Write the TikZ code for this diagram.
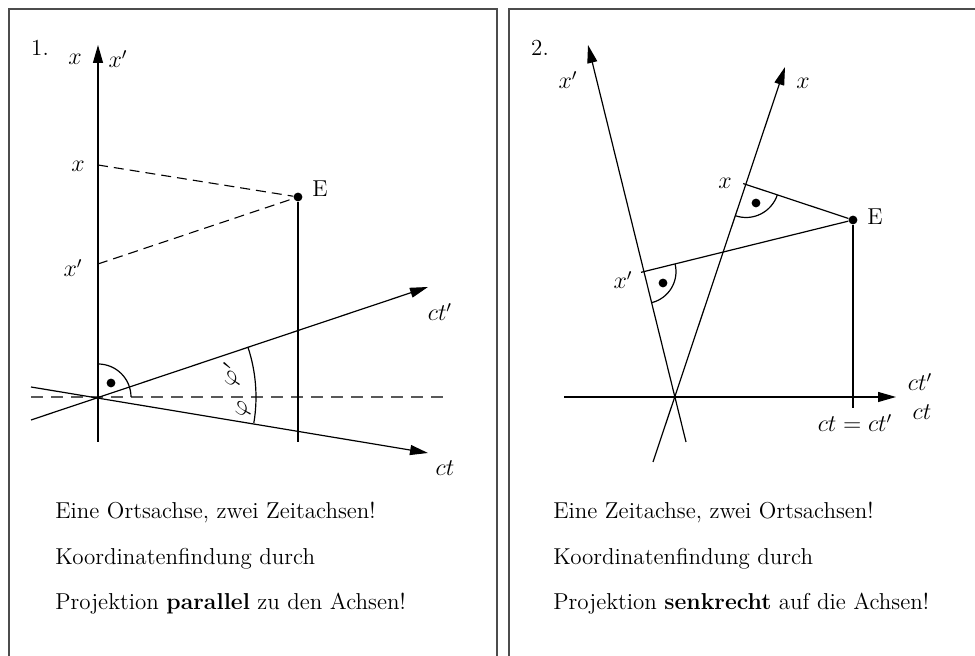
\documentclass[tikz,border=0pt]{standalone}
\usepackage{amsmath}
\usepackage{tikz}
\usetikzlibrary{arrows.meta,calc}
\tikzset{
  frame/.style ={draw=black!70, line width=0.9pt},
  axis/.style  ={-{Triangle[length=9pt,width=5pt]}, line width=0.6pt},
  line/.style  ={line width=0.6pt},
  proj/.style  ={dashed, dash pattern=on 5pt off 3pt, line width=0.55pt},
  hor/.style   ={dashed, dash pattern=on 6pt off 4pt, line width=0.6pt, draw=black!65},
  dot/.style   ={circle, fill=black, inner sep=0pt, minimum size=4.4pt},
  txt/.style   ={anchor=base west, inner sep=0pt},
}

\begin{document}
\begin{tikzpicture}[x=0.5pt, y=0.5pt, font=\fontsize{11.5}{14}\selectfont]
\useasboundingbox (0,0) rectangle (975,656);
\clip (0,0) rectangle (975,656);

% frames
\draw[frame] (9,-20) rectangle (497,647);
\draw[frame] (509,-20) rectangle (1000,647);

% ---- panel 1: parallel projection
\node (n1) at (40,608) {1.};
\coordinate (O1) at (98,259);
\coordinate (xb1) at (98,214);
\coordinate (xt1) at (98,611);
\coordinate (px1) at (98,491);
\coordinate (pxp1) at (98,392);
\coordinate (Eb1) at (298,214);
\coordinate (ctps) at (31,236);
\coordinate (ctpe) at (428,369);
\coordinate (cts) at (31,269);
\coordinate (cte) at (428,203);
\coordinate (hs1) at (31,259);
\coordinate (he1) at (450,259);
\node[dot] (E1) at (298,459) {};

\draw[hor] (hs1) -- (he1);
\draw[axis] (xb1) -- (xt1);
\draw[axis] (ctps) -- (ctpe);
\draw[axis] (cts) -- (cte);
\draw[line] (E1) -- (Eb1);
\draw[proj] (px1) -- (E1);
\draw[proj] (pxp1) -- (E1);
\draw[line] ($(O1)+(90:33)$) arc[start angle=90, end angle=0, radius=16.5pt];
\node[dot] (ra1) at (111,273) {};
\draw[line] ($(O1)+(-9.5:158)$) arc[start angle=-9.5, end angle=18.5, radius=79pt];

\node (lx1) at (75,597) {$x$};
\node (lxp1) at (118,597) {$x'$};
\node (tx1) at (78,490) {$x$};
\node (txp1) at (73,388) {$x'$};
\node (lE1) at (320,467) {E};
\node (lctp1) at (440,344) {$ct'$};
\node (lct1) at (445,188) {$ct$};
\node[rotate=70, inner sep=1pt] (lphp) at (231,281) {$\varphi'$};
\node[rotate=75, inner sep=1pt] (lph) at (244,247) {$\varphi$};

\node[txt] (t11) at (55,137) {Eine Ortsachse, zwei Zeitachsen!};
\node[txt] (t12) at (55,91) {Koordinatenfindung durch};
\node[txt] (t13) at (55,46) {Projektion \textbf{parallel} zu den Achsen!};

% ---- panel 2: perpendicular projection
\node (n2) at (540,608) {2.};
\coordinate (O2) at (675,259);
\coordinate (ts2) at (564,259);
\coordinate (te2) at (896,259);
\coordinate (xps) at (686,214);
\coordinate (xpe) at (588,611);
\coordinate (xs2) at (653,194);
\coordinate (xe2) at (785,589);
\coordinate (Eb2) at (853,248);
\coordinate (F) at (746,471.5);
\coordinate (G) at (644,384.4);
\node[dot] (E2) at (853,436) {};

\draw[axis] (ts2) -- (te2);
\draw[axis] (xps) -- (xpe);
\draw[axis] (xs2) -- (xe2);
\draw[line] (E2) -- (Eb2);
\draw[line] (E2) -- ($(F)!-1.5pt!(E2)$);
\draw[line] (E2) -- ($(G)!-1.5pt!(E2)$);
\draw[line] ($(F)+(251.5:33)$) arc[start angle=251.5, end angle=341.5, radius=16.5pt];
\draw[line] ($(G)+(-76.1:32)$) arc[start angle=-76.1, end angle=13.9, radius=16pt];
\node[dot] (ra2) at (756,453) {};
\node[dot] (ra3) at (663,373) {};

\node (lxp2) at (568,576) {$x'$};
\node (lx2) at (803,573) {$x$};
\node (tx2) at (725,473) {$x$};
\node (txp2) at (623,376) {$x'$};
\node (lE2) at (875,439) {E};
\node (lctp2) at (920,274) {$ct'$};
\node (lct2) at (922,244) {$ct$};
\node (lcc) at (855,233) {$ct = ct'$};

\node[txt] (t21) at (553,137) {Eine Zeitachse, zwei Ortsachsen!};
\node[txt] (t22) at (553,91) {Koordinatenfindung durch};
\node[txt] (t23) at (553,46) {Projektion \textbf{senkrecht} auf die Achsen!};
\end{tikzpicture}
\end{document}
